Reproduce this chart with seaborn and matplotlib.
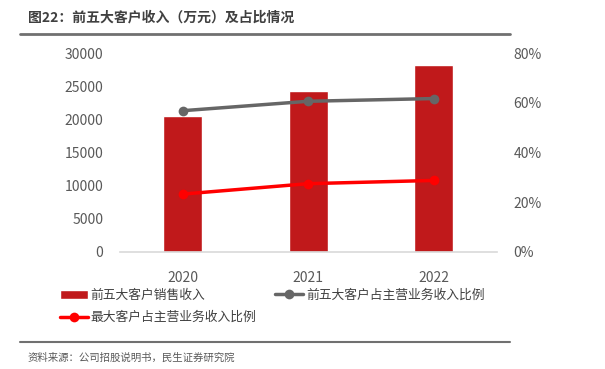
import pandas as pd
import matplotlib.pyplot as plt
import matplotlib.ticker as mticker
import seaborn as sns

years = ["2020", "2021", "2022"]
top5_revenue = [20450, 24350, 28200]
top5_share = [56.8, 60.6, 61.7]
top1_share = [23.2, 27.4, 28.7]

title = "图22：前五大客户收入（万元）及占比情况"
source = "资料来源：公司招股说明书，民生证券研究院"
name_bar = "前五大客户销售收入"
name_top5 = "前五大客户占主营业务收入比例"
name_top1 = "最大客户占主营业务收入比例"

sns.set_style("white")
plt.rcParams['font.family'] = ['Noto Sans CJK SC', 'DejaVu Sans']
plt.rcParams['axes.unicode_minus'] = False

df = pd.DataFrame({"year": years, "rev": top5_revenue,
                   "top5": top5_share, "top1": top1_share})
df["pos"] = range(len(df))

fig = plt.figure(figsize=(6.05, 3.69), dpi=100)
ax = fig.add_axes([0.198, 0.318, 0.623, 0.538])

sns.barplot(data=df, x="year", y="rev", color="#C0191B", width=0.31,
            saturation=1, ax=ax, label=name_bar)
ax.set_ylim(0, 30000)
ax.set_xlim(-0.5, 2.5)
ax.set_yticks(range(0, 30001, 5000))
ax.set_xlabel("")
ax.set_ylabel("")
for s in ["top", "right", "left"]:
    ax.spines[s].set_visible(False)
ax.spines["bottom"].set_color("#D9D9D9")
ax.spines["bottom"].set_linewidth(1.2)
ax.tick_params(axis="both", length=0, labelsize=10, colors="#595959", pad=14)
ax.tick_params(axis="y", pad=12)

ax2 = ax.twinx()
sns.lineplot(data=df, x="pos", y="top5", color="#666666", lw=2.5, marker="o",
             markersize=7, markeredgewidth=0, ax=ax2, label=name_top5)
sns.lineplot(data=df, x="pos", y="top1", color="#FF0000", lw=2.5, marker="o",
             markersize=7, markeredgewidth=0, ax=ax2, label=name_top1)
ax2.set_ylim(0, 80)
ax2.set_yticks(range(0, 81, 20))
ax2.yaxis.set_major_formatter(mticker.FuncFormatter(lambda v, p: f"{v:.0f}%"))
ax2.set_xlabel("")
ax2.set_ylabel("")
for s in ["top", "right", "left", "bottom"]:
    ax2.spines[s].set_visible(False)
ax2.tick_params(axis="y", length=0, labelsize=10, colors="#595959", pad=12)

h1, l1 = ax.get_legend_handles_labels()
h2, l2 = ax2.get_legend_handles_labels()
if ax.get_legend() is not None:
    ax.get_legend().remove()
if ax2.get_legend() is not None:
    ax2.get_legend().remove()
handles = [h1[0], h2[1], h2[0]]
labels = [l1[0], l2[1], l2[0]]
fig.legend(handles, labels, ncol=2, loc="upper left",
           bbox_to_anchor=(0.09, 0.232), frameon=False, fontsize=9.2,
           labelcolor="#404040", handlelength=2.2, handletextpad=0.2,
           columnspacing=1.5, labelspacing=0.75, borderaxespad=0)

fig.text(0.046, 0.953, title, fontsize=10, fontweight="bold",
         color="#404040", va="center", ha="left")
fig.add_artist(plt.Line2D([0.033, 0.843], [0.907, 0.907], color="#707070",
                          lw=2, transform=fig.transFigure))
fig.add_artist(plt.Line2D([0.033, 0.843], [0.073, 0.073], color="#707070",
                          lw=1.5, transform=fig.transFigure))
fig.text(0.046, 0.030, source, fontsize=7.5, color="#595959",
         va="center", ha="left")

fig.savefig("out.png", dpi=100)
